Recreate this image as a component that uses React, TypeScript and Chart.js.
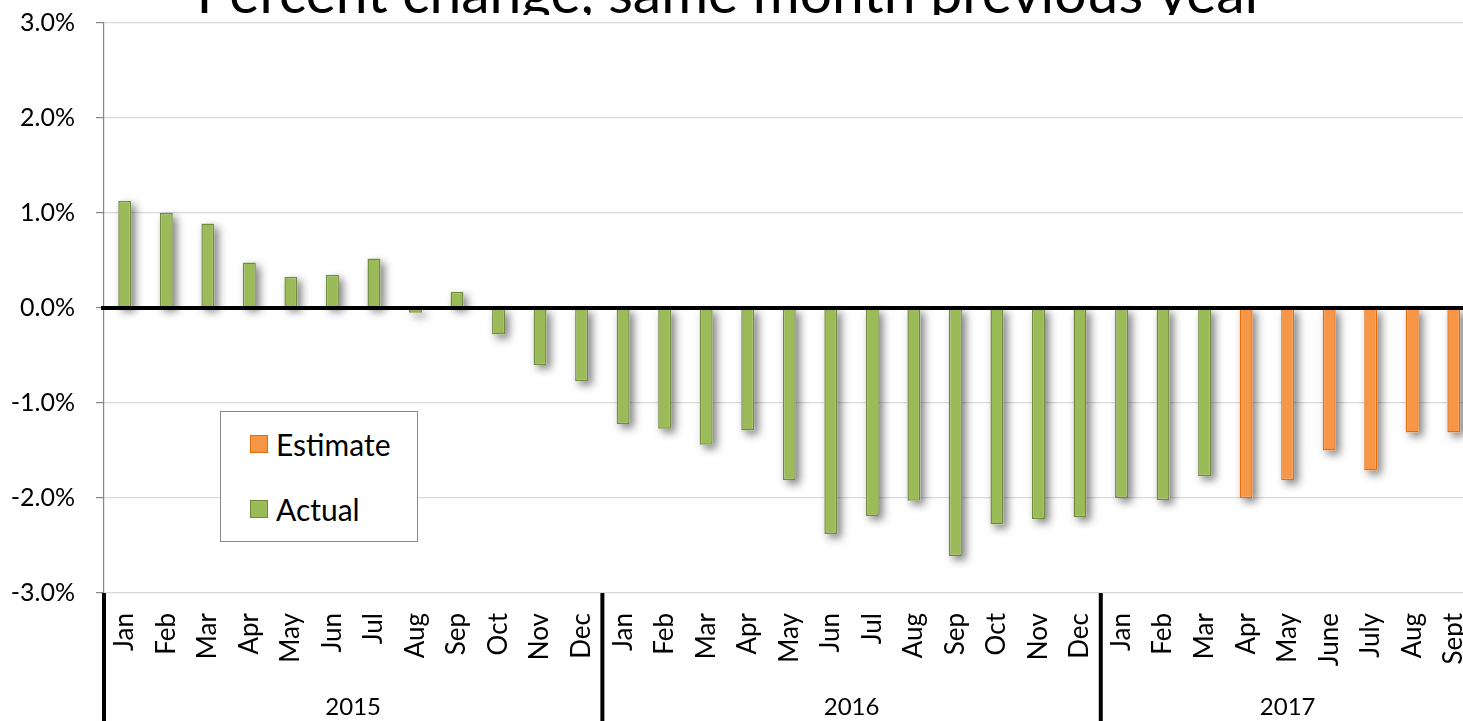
import React, { useEffect, useRef } from "react";
import { Chart, registerables } from "chart.js";

Chart.register(...registerables);

const months: string[] = [
  "Jan", "Feb", "Mar", "Apr", "May", "Jun", "Jul", "Aug", "Sep", "Oct", "Nov", "Dec",
  "Jan", "Feb", "Mar", "Apr", "May", "Jun", "Jul", "Aug", "Sep", "Oct", "Nov", "Dec",
  "Jan", "Feb", "Mar", "Apr", "May", "June", "July", "Aug", "Sept",
];
const years: string[] = ["2015", "2016", "2017"];
const yearCounts: number[] = [12, 12, 9];

const actual: (number | null)[] = [
  1.13, 1.0, 0.89, 0.48, 0.33, 0.35, 0.52, -0.05, 0.17, -0.28, -0.6, -0.77,
  -1.22, -1.27, -1.44, -1.29, -1.81, -2.38, -2.19, -2.03, -2.61, -2.28, -2.22, -2.2,
  -2.0, -2.02, -1.77, null, null, null, null, null, null,
];
const estimate: (number | null)[] = [
  null, null, null, null, null, null, null, null, null, null, null, null,
  null, null, null, null, null, null, null, null, null, null, null, null,
  null, null, null, -2.0, -1.81, -1.5, -1.71, -1.31, -1.31,
];
const yTicks: number[] = [-3, -2, -1, 0, 1, 2, 3];
const title = "Percent change, same month previous year";

const FONT = "Lato, 'Open Sans', sans-serif";
const GREEN = "#9BBB59";
const GREEN_B = "#71893F";
const ORANGE = "#F79646";
const ORANGE_B = "#E46C0A";

const SHIFT = 13; // canvas is moved up by this many pixels
const CW = 1505;
const CH = 721 + SHIFT;

export default function App() {
  const ref = useRef<HTMLCanvasElement | null>(null);

  useEffect(() => {
    const canvas = ref.current;
    if (!canvas) return;

    const decor = {
      id: "decor",
      beforeDatasetsDraw(chart: any) {
        // soft drop shadow behind each bar, using the bar elements' geometry
        const ctx = chart.ctx;
        ctx.save();
        ctx.shadowColor = "rgba(0,0,0,0.5)";
        ctx.shadowBlur = 8;
        ctx.shadowOffsetX = 4;
        ctx.shadowOffsetY = 4;
        ctx.fillStyle = "#ffffff";
        chart.data.datasets.forEach((_ds: any, di: number) => {
          const meta = chart.getDatasetMeta(di);
          meta.data.forEach((bar: any, i: number) => {
            const v = chart.data.datasets[di].data[i];
            if (v === null || v === undefined) return;
            const p = bar.getProps(["x", "y", "base", "width"], true);
            const top = Math.min(p.y, p.base);
            const h = Math.abs(p.base - p.y);
            ctx.fillRect(p.x - p.width / 2, top, p.width, h);
          });
        });
        ctx.restore();
      },
      afterDatasetsDraw(chart: any) {
        const ctx = chart.ctx;
        const y = chart.scales.y;
        const ca = chart.chartArea;
        const y0 = y.getPixelForValue(0);
        ctx.save();
        ctx.strokeStyle = "#000";
        ctx.lineWidth = 4;
        ctx.beginPath();
        ctx.moveTo(ca.left - 3, y0);
        ctx.lineTo(ca.right, y0);
        ctx.stroke();
        ctx.restore();
      },
      afterDraw(chart: any) {
        const ctx = chart.ctx;
        const x = chart.scales.x;
        const ca = chart.chartArea;
        // title, partly hidden behind plot area
        ctx.save();
        ctx.beginPath();
        ctx.rect(0, 0, chart.width, SHIFT + 15);
        ctx.clip();
        ctx.fillStyle = "#000";
        ctx.font = `57px ${FONT}`;
        ctx.textAlign = "center";
        ctx.textBaseline = "alphabetic";
        ctx.fillText(title, 731, SHIFT + 12.5);
        ctx.restore();

        // year groups
        const half = (x.getPixelForValue(1) - x.getPixelForValue(0)) / 2;
        let start = 0;
        ctx.save();
        ctx.strokeStyle = "#000";
        ctx.lineWidth = 4;
        ctx.fillStyle = "#000";
        ctx.font = `24px ${FONT}`;
        ctx.textAlign = "center";
        ctx.textBaseline = "middle";
        years.forEach((yr, i) => {
          const end = start + yearCounts[i] - 1;
          const left = x.getPixelForValue(start) - half;
          const right = x.getPixelForValue(end) + half;
          ctx.beginPath();
          ctx.moveTo(left, ca.bottom);
          ctx.lineTo(left, chart.height);
          ctx.stroke();
          if (i === years.length - 1) {
            ctx.beginPath();
            ctx.moveTo(right, ca.bottom);
            ctx.lineTo(right, chart.height);
            ctx.stroke();
          }
          ctx.fillText(yr, (left + right) / 2, SHIFT + 707);
          start = end + 1;
        });
        ctx.restore();
      },
    };

    const chart = new Chart(canvas, {
      type: "bar",
      data: {
        labels: months,
        datasets: [
          {
            label: "Estimate",
            data: estimate,
            backgroundColor: ORANGE,
            borderColor: ORANGE_B,
            borderWidth: 1.5,
          },
          {
            label: "Actual",
            data: actual,
            backgroundColor: GREEN,
            borderColor: GREEN_B,
            borderWidth: 1.5,
          },
        ],
      },
      options: {
        animation: false,
        responsive: false,
        devicePixelRatio: 1,
        layout: { padding: { top: 9, right: 0, left: 0, bottom: 0 } },
        datasets: {
          bar: { grouped: false, barPercentage: 0.313, categoryPercentage: 1 },
        } as any,
        plugins: {
          legend: { display: false },
          title: { display: false },
          tooltip: { enabled: false },
        },
        scales: {
          x: {
            grid: { display: false, drawTicks: false },
            border: { display: false },
            ticks: {
              autoSkip: false,
              minRotation: 90,
              maxRotation: 90,
              padding: 20,
              color: "#000",
              font: { family: FONT, size: 26 },
            },
            afterFit(scale: any) {
              scale.height = 128;
            },
          },
          y: {
            min: -3,
            max: 3,
            afterBuildTicks(scale: any) {
              scale.ticks = yTicks.map((v) => ({ value: v }));
            },
            grid: {
              color: "#d9d9d9",
              lineWidth: 1.2,
              tickLength: 8,
              tickColor: "#868686",
            },
            border: { display: true, color: "#868686", width: 1.2 },
            ticks: {
              padding: 21,
              color: "#000",
              font: { family: FONT, size: 25 },
              callback: (v: any) => Number(v).toFixed(1) + "%",
            },
            afterFit(scale: any) {
              scale.width = 104;
            },
          },
        },
      },
      plugins: [decor],
    });

    return () => chart.destroy();
  }, []);

  const legendItem = (color: string, border: string, text: string, top: number) => (
    <div
      style={{
        position: "absolute",
        left: 29,
        top,
        display: "flex",
        alignItems: "center",
        height: 30,
      }}
    >
      <div
        style={{
          width: 16,
          height: 16,
          background: color,
          border: `1.5px solid ${border}`,
          marginRight: 8,
        }}
      />
      <span style={{ fontFamily: FONT, fontSize: 30, color: "#000", lineHeight: "30px" }}>{text}</span>
    </div>
  );

  return (
    <div
      style={{
        position: "fixed",
        left: 0,
        top: 0,
        width: 1463,
        height: 721,
        overflow: "hidden",
        background: "#fff",
      }}
    >
      <canvas
        ref={ref}
        width={CW}
        height={CH}
        style={{ position: "absolute", left: 0, top: -SHIFT, width: CW, height: CH }}
      />
      <div
        style={{
          position: "absolute",
          left: 220,
          top: 411,
          width: 196,
          height: 129,
          border: "1.5px solid #888",
          background: "#fff",
        }}
      >
        {legendItem(ORANGE, ORANGE_B, "Estimate", 17)}
        {legendItem(GREEN, GREEN_B, "Actual", 82)}
      </div>
    </div>
  );
}
